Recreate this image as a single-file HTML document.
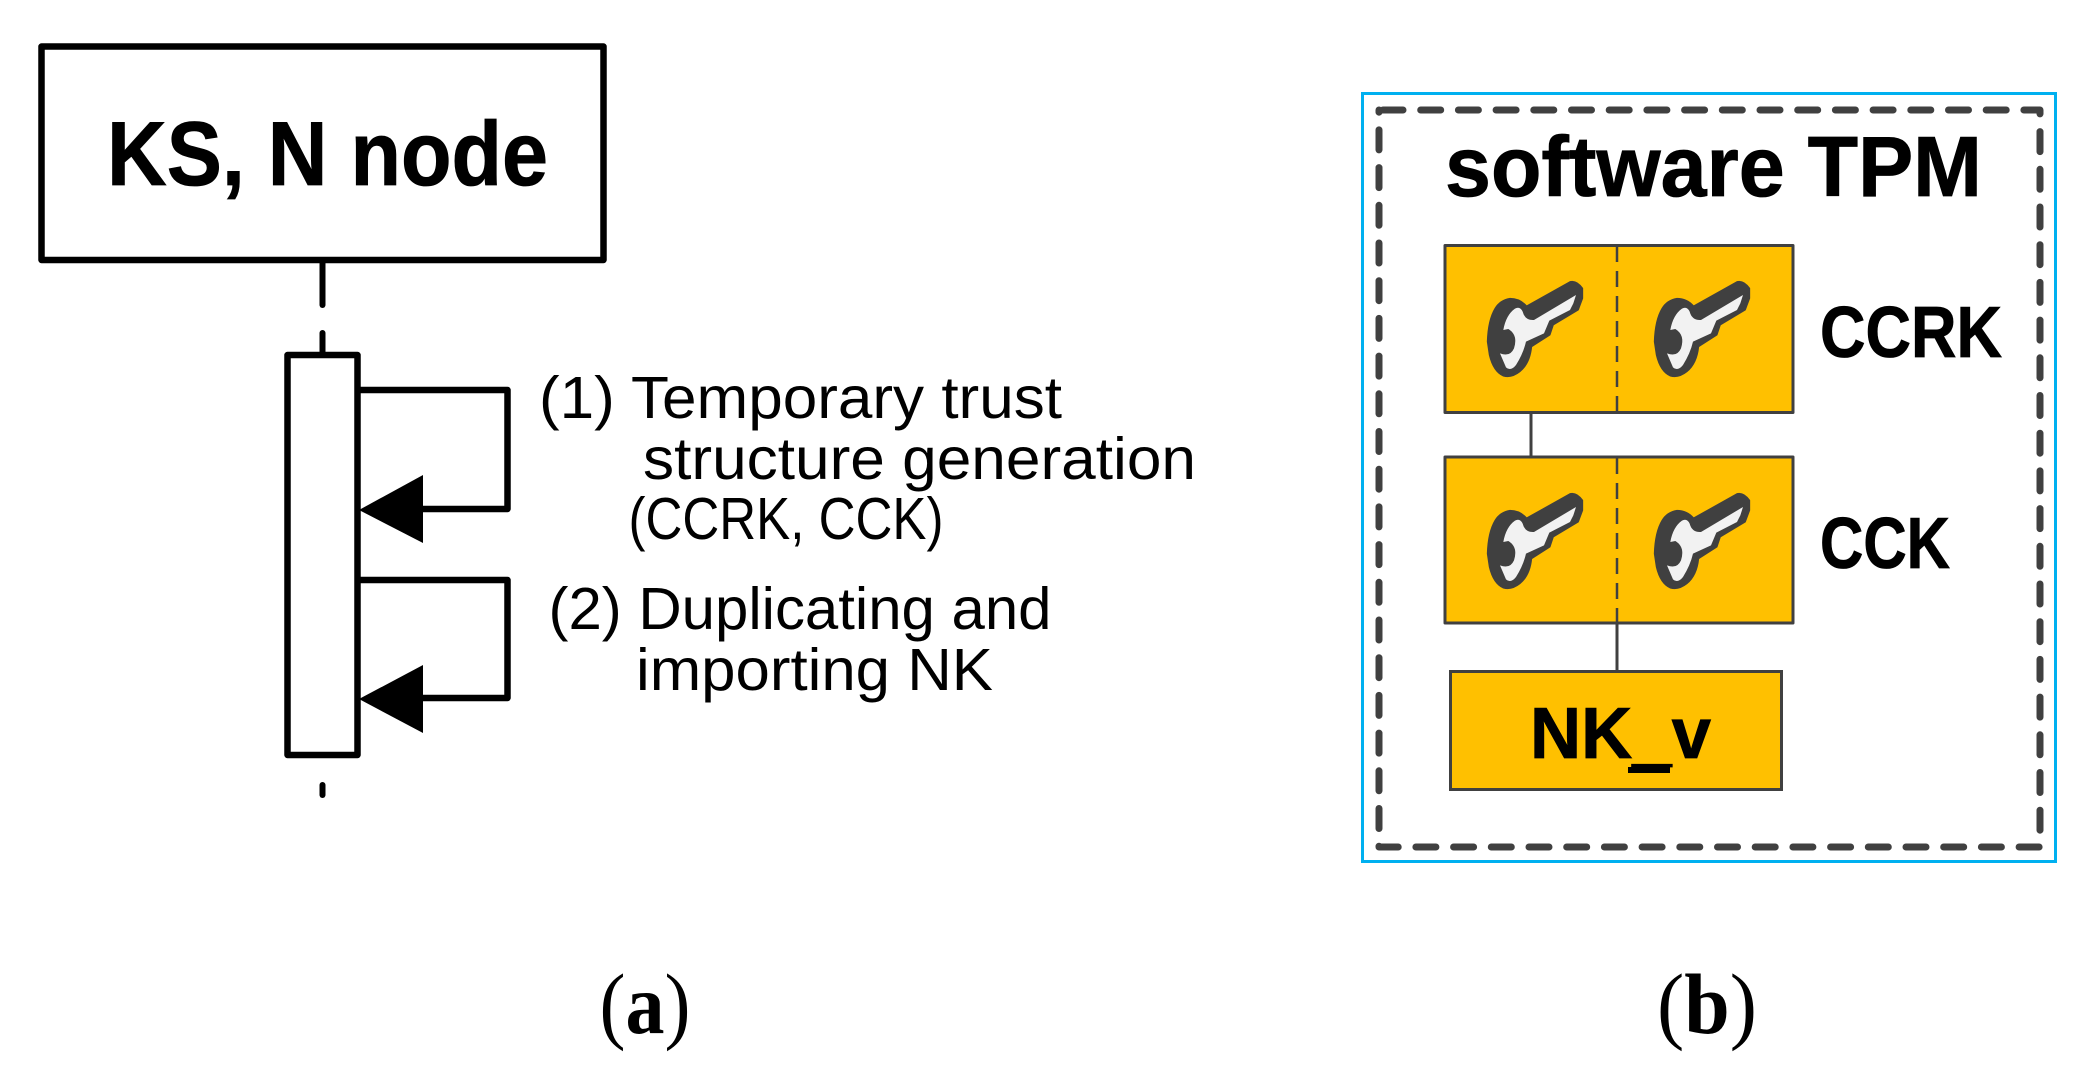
<!DOCTYPE html>
<html lang="en">
<head>
<meta charset="utf-8">
<title>Diagram</title>
<style>
html,body{margin:0;padding:0;background:#fff;width:2089px;height:1086px;overflow:hidden}
svg{display:block}
.b{font-family:"Liberation Sans",sans-serif;font-weight:bold;fill:#000;stroke:#000;stroke-width:.8}
.r{font-family:"Liberation Sans",sans-serif;font-size:59px;fill:#000}
.s{font-family:"Liberation Serif",serif;font-size:86px;fill:#000}
</style>
</head>
<body>
<svg width="2089" height="1086" viewBox="0 0 2089 1086" xmlns="http://www.w3.org/2000/svg">
<defs>
<g id="key" transform="translate(1470 270) scale(.3333)">
<path fill="#404040" stroke="#404040" stroke-width="3" stroke-linejoin="round" d="M52 215Q54 150 75 115Q90 90 120 85Q150 85 170 108L300 35Q320 30 338 55L338 85L325 120L250 165L240 195L185 230Q180 280 150 305Q125 325 100 318Q70 305 58 255Z"/>
<path fill="#f2f2f2" d="M100 180Q108 135 135 116Q150 108 158 125Q165 152 192 150L318 75L310 100L300 120L238 152L222 190L168 215Q160 250 138 285Q122 305 108 292L90 250Q120 262 132 235Q145 195 115 177Z"/>
</g>
</defs>

<!-- (a) -->
<rect x="41.5" y="46.5" width="562" height="213.5" fill="#fff" stroke="#000" stroke-width="6.5" stroke-linejoin="round"/>
<text class="b" x="107" y="185" font-size="91" textLength="441" lengthAdjust="spacingAndGlyphs">KS, N node</text>
<line x1="322.5" y1="262" x2="322.5" y2="305" stroke="#000" stroke-width="6" stroke-linecap="round"/>
<line x1="322.5" y1="333" x2="322.5" y2="354" stroke="#000" stroke-width="6" stroke-linecap="round"/>
<rect x="287.5" y="355" width="70" height="400" fill="#fff" stroke="#000" stroke-width="6.5" stroke-linejoin="round"/>
<line x1="322.5" y1="785" x2="322.5" y2="795" stroke="#000" stroke-width="6" stroke-linecap="round"/>
<polyline points="357,390 507.5,390 507.5,509 420,509" fill="none" stroke="#000" stroke-width="6.5" stroke-linejoin="round"/>
<polygon points="359,510 423,475 423,543"/>
<polyline points="357,580 507.5,580 507.5,698 420,698" fill="none" stroke="#000" stroke-width="6.5" stroke-linejoin="round"/>
<polygon points="359,699 423,665 423,733"/>
<text class="r" x="539" y="418" textLength="523" lengthAdjust="spacingAndGlyphs">(1) Temporary trust</text>
<text class="r" x="643" y="479" textLength="553" lengthAdjust="spacingAndGlyphs">structure generation</text>
<text class="r" x="628.5" y="539" textLength="315" lengthAdjust="spacingAndGlyphs">(CCRK, CCK)</text>
<text class="r" x="548.5" y="629" textLength="503" lengthAdjust="spacingAndGlyphs">(2) Duplicating and</text>
<text class="r" x="636" y="690" textLength="357" lengthAdjust="spacingAndGlyphs">importing NK</text>
<text class="s" x="599.5" y="1033" textLength="91" lengthAdjust="spacingAndGlyphs">(<tspan font-weight="bold">a</tspan>)</text>

<!-- (b) -->
<rect x="1362.5" y="93.5" width="693" height="768" fill="none" stroke="#00b0f0" stroke-width="3"/>
<path d="M1383 110H2040V847H1379V110" fill="none" stroke="#404040" stroke-width="7" stroke-linecap="round" stroke-linejoin="round" stroke-dasharray="20 17.7"/>
<text class="b" x="1445" y="196" font-size="85" textLength="537" lengthAdjust="spacingAndGlyphs">software TPM</text>

<line x1="1531" y1="412" x2="1531" y2="457" stroke="#404040" stroke-width="3"/>
<line x1="1617" y1="623" x2="1617" y2="671" stroke="#404040" stroke-width="3"/>

<rect x="1445" y="245.5" width="348" height="167" fill="#ffc000" stroke="#404040" stroke-width="3" stroke-linejoin="round"/>
<line x1="1617" y1="246" x2="1617" y2="412" stroke="#404040" stroke-width="2.5" stroke-dasharray="16 9"/>
<use href="#key"/>
<use href="#key" x="167"/>

<rect x="1445" y="457" width="348" height="166" fill="#ffc000" stroke="#404040" stroke-width="3" stroke-linejoin="round"/>
<line x1="1617" y1="458" x2="1617" y2="623" stroke="#404040" stroke-width="2.5" stroke-dasharray="16 9"/>
<use href="#key" y="212"/>
<use href="#key" x="167" y="212"/>

<rect x="1450.5" y="671.5" width="331" height="118" fill="#ffc000" stroke="#404040" stroke-width="3"/>

<text class="b" x="1820" y="357" font-size="72" textLength="182" lengthAdjust="spacingAndGlyphs">CCRK</text>
<text class="b" x="1820" y="568" font-size="72" textLength="130" lengthAdjust="spacingAndGlyphs">CCK</text>
<text class="b" x="1530" y="758" font-size="72" textLength="181" lengthAdjust="spacingAndGlyphs">NK_v</text>
<rect x="1628" y="767" width="42" height="6"/>
<text class="s" x="1657" y="1033" textLength="100" lengthAdjust="spacingAndGlyphs">(<tspan font-weight="bold">b</tspan>)</text>
</svg>
</body>
</html>
